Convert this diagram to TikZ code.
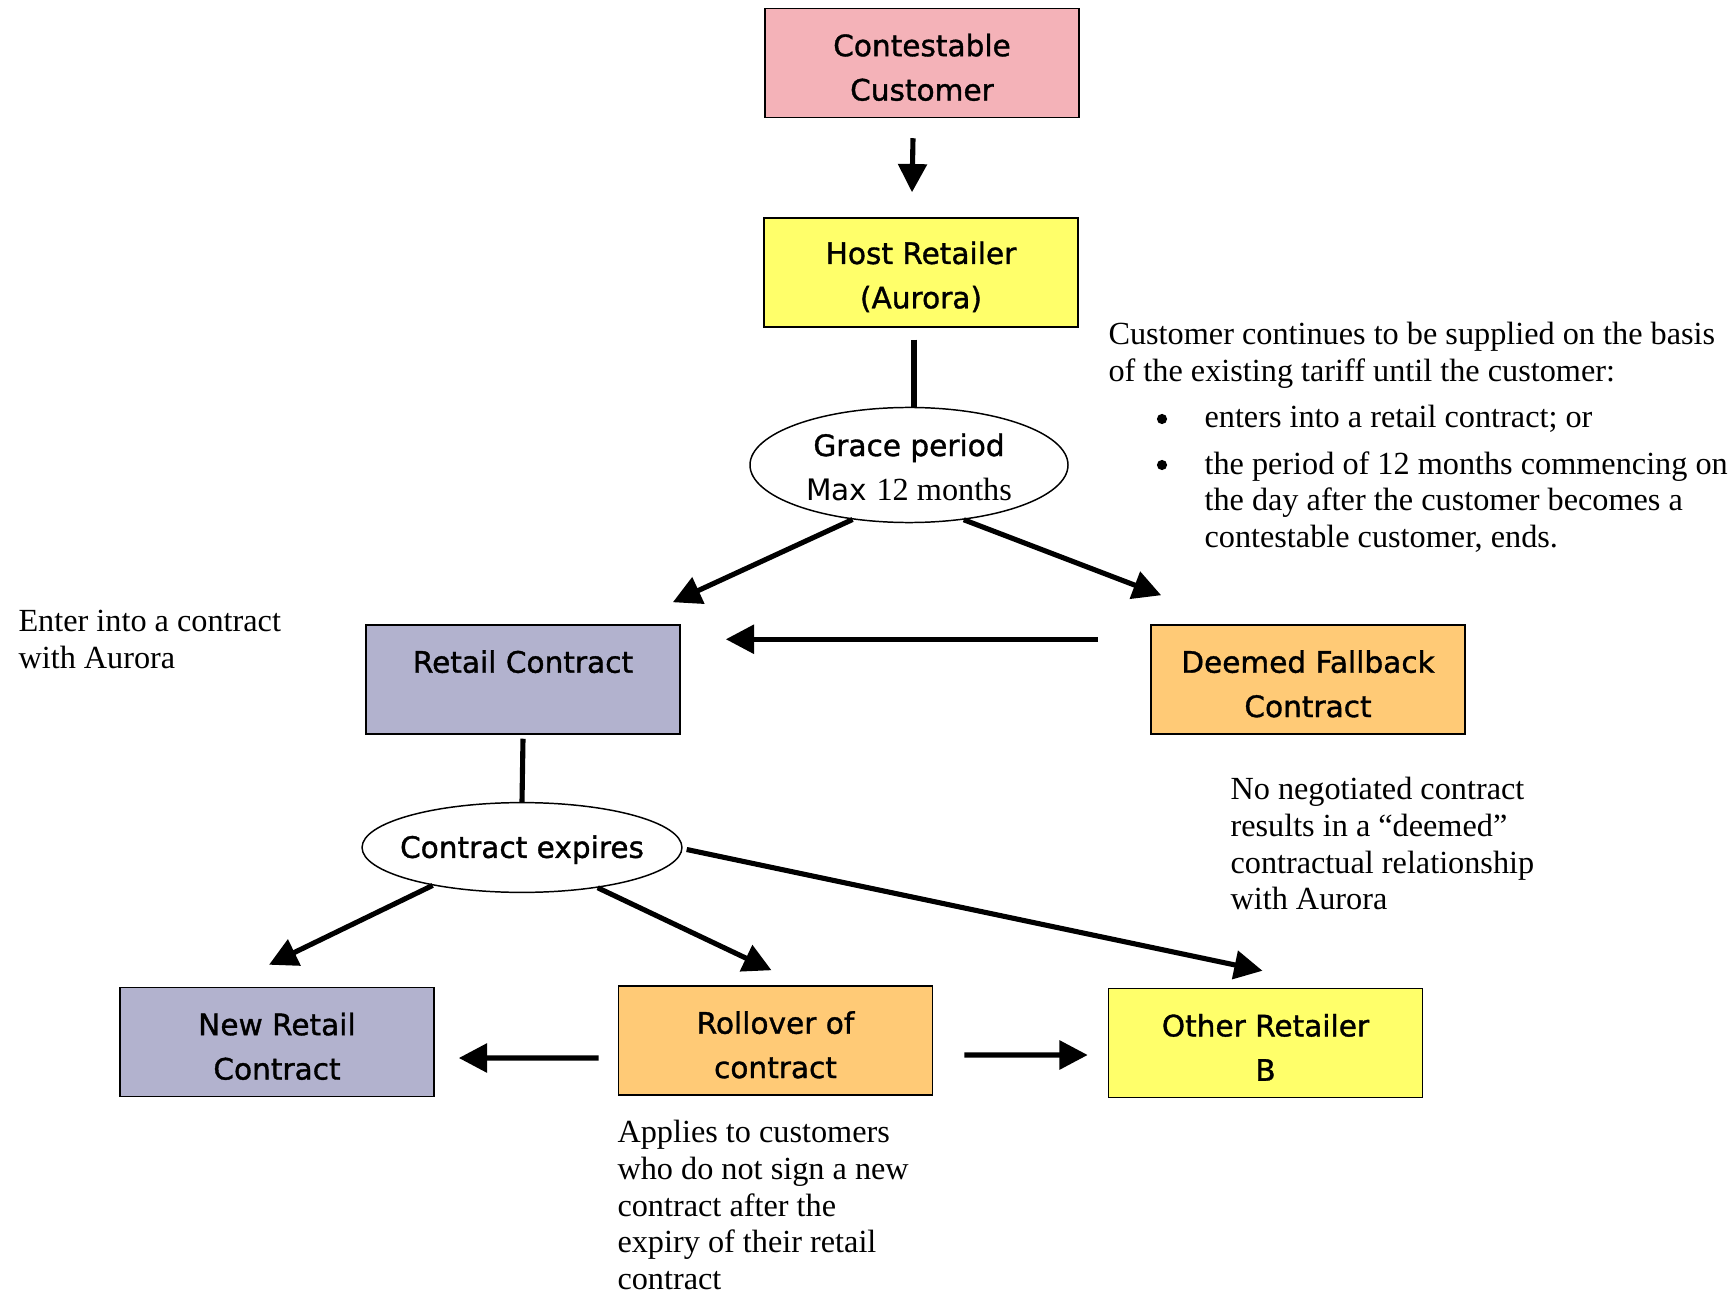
\documentclass[tikz,border=0pt]{standalone}
\usepackage{fontspec}
\setmainfont{Liberation Serif}
\setsansfont{DejaVu Sans}
\newfontfamily\boxfont[FakeBold=1.2]{DejaVu Sans}
\usepackage{tikz}
\usetikzlibrary{arrows.meta,shapes.geometric}

\definecolor{custpink}{RGB}{244,178,184}
\definecolor{hostyellow}{RGB}{255,255,106}
\definecolor{retailblue}{RGB}{178,178,206}
\definecolor{fallorange}{RGB}{255,202,118}

\begin{document}
\begin{tikzpicture}
[
x=0.372pt, y=-0.372pt,
boxnode/.style={rectangle, draw=black, line width=0.6pt, minimum width=116.8pt, minimum height=40.5pt, inner sep=0pt, align=center, font=\boxfont\fontsize{11}{16.5}\selectfont},
ovalnode/.style={ellipse, draw=black, fill=white, line width=0.55pt, inner xsep=-8pt, inner ysep=0pt, align=center, font=\boxfont\fontsize{11}{16.5}\selectfont},
notenode/.style={anchor=north west, inner sep=0pt, align=left, font=\fontsize{12}{13.6}\selectfont},
dotnode/.style={circle, fill=black, inner sep=0pt, minimum size=3.8pt},
arrowline/.style={-{Triangle[length=10.5pt,width=10.5pt]}, line width=1.9pt},
plainline/.style={-, line width=1.9pt},
]
\useasboundingbox (0,0) rectangle (1736,1294);
\fill[white] (0,0) rectangle (1736,1294);

%Nodes
\node[boxnode, fill=custpink] (contest) at (922,63) {\rule{0pt}{11.6pt}Contestable\\Customer};
\node[boxnode, fill=hostyellow] (host) at (921,272.5) {\rule{0pt}{11.6pt}Host Retailer\\(Aurora)};
\node[ovalnode, minimum width=118.3pt, minimum height=42.8pt] (grace) at (909,465) {\rule{0pt}{10pt}Grace period\\{\sffamily Max} {\rmfamily\fontsize{12}{16.5}\selectfont 12 months}};
\node[boxnode, fill=retailblue] (retail) at (523,679.5) {\rule{0pt}{11.6pt}Retail Contract\\\phantom{C}};
\node[boxnode, fill=fallorange] (deemed) at (1308,679.5) {\rule{0pt}{11.6pt}Deemed Fallback\\Contract};
\node[ovalnode, minimum width=119pt, minimum height=33.4pt] (expires) at (522,847.5) {\rule{0pt}{10pt}Contract expires};
\node[boxnode, fill=retailblue] (newretail) at (277,1042) {\rule{0pt}{11.6pt}New Retail\\Contract};
\node[boxnode, fill=fallorange] (rollover) at (775.5,1040.5) {\rule{0pt}{11.6pt}Rollover of\\contract};
\node[boxnode, fill=hostyellow] (other) at (1265.5,1043) {\rule{0pt}{11.6pt}Other Retailer\\B};

%Notes
\node[notenode] (enternote) at (18,610) {Enter into a contract\\with Aurora};
\node[notenode] (supplynote) at (1108,322) {Customer continues to be supplied on the basis\\of the existing tariff until the customer:};
\node[dotnode] (bulletA) at (1162,419) {};
\node[notenode] (itemA) at (1204,405) {enters into a retail contract; or};
\node[dotnode] (bulletB) at (1162,465) {};
\node[notenode] (itemB) at (1204,451) {the period of 12 months commencing on\\the day after the customer becomes a\\contestable customer, ends.};
\node[notenode] (deemednote) at (1230,777) {No negotiated contract\\results in a “deemed”\\contractual relationship\\with Aurora};
\node[notenode] (rollnote) at (617,1120) {Applies to customers\\who do not sign a new\\contract after the\\expiry of their retail\\contract};

%Lines
\draw[arrowline] ([shift={(-9,20)}]contest.south) -- ([shift={(-9,-25)}]host.north);
\draw[plainline] ([shift={(-7,12)}]host.south) -- ([shift={(5,0)}]grace.north);
\draw[arrowline] (grace.224) -- ([shift={(-8,-22)}]retail.north east);
\draw[arrowline] (grace.315) -- ([shift={(11,-29)}]deemed.north west);
\draw[arrowline] ([shift={(-52,15)}]deemed.north west) -- ([shift={(45,15)}]retail.north east);
\draw[plainline] ([shift={(0,4)}]retail.south) -- (expires.north);
\draw[arrowline] (expires.203) -- ([shift={(-8,-22)}]newretail.north);
\draw[arrowline] (expires.332) -- ([shift={(-4,-15)}]rollover.north);
\draw[arrowline] ([shift={(4,2)}]expires.east) -- ([shift={(-3,-17)}]other.north);
\draw[arrowline] ([shift={(-19,17.5)}]rollover.west) -- ([shift={(24,16)}]newretail.east);
\draw[arrowline] ([shift={(31,14.5)}]rollover.east) -- ([shift={(-20,12)}]other.west);
\end{tikzpicture}
\end{document}
